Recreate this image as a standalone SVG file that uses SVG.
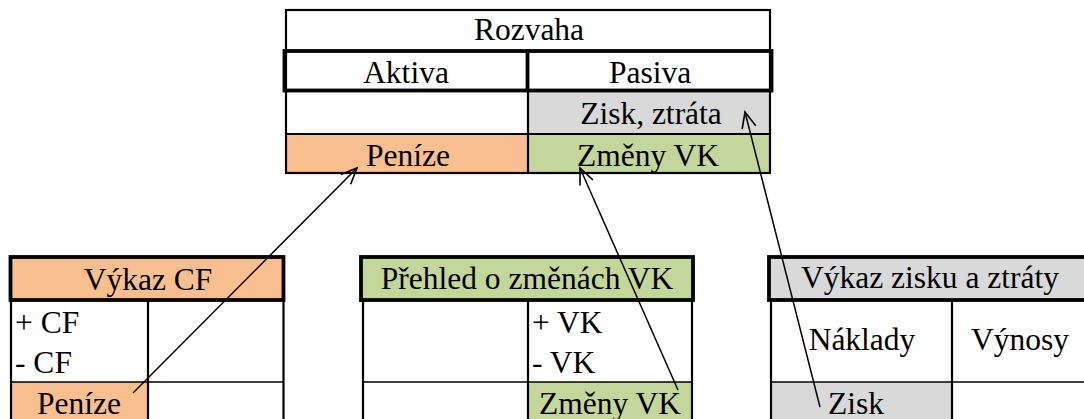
<svg xmlns="http://www.w3.org/2000/svg" width="1084" height="419" viewBox="0 0 1084 419">
<style>
text{font-family:'Liberation Serif','Times New Roman',serif;font-size:31.5px;fill:#000}
.c{text-anchor:middle}
.ln{stroke:#000;stroke-width:2.2;fill:none}
.thk{stroke:#000;stroke-width:3.8;fill:none}
.thin{stroke:#000;stroke-width:1.6;fill:none}
.or{fill:#FABF8F}
.gr{fill:#C4D79B}
.gy{fill:#D9D9D9}
.arr{stroke:#000;stroke-width:1.5;fill:none;marker-end:url(#ah)}
</style>
<defs>
<marker id="ah" markerUnits="userSpaceOnUse" markerWidth="24" markerHeight="24" refX="17" refY="8" orient="auto" viewBox="0 0 24 16">
<path d="M1,1 L17,8 L1,15" fill="none" stroke="#000" stroke-width="1.6"/>
</marker>
</defs>
<rect width="1084" height="419" fill="#fff"/>

<g id="rozvaha">
<rect x="528" y="91" width="242" height="43" class="gy"/>
<rect x="286" y="134" width="242" height="39" class="or"/>
<rect x="528" y="134" width="242" height="39" class="gr"/>
<rect x="286" y="10" width="484" height="163" class="ln"/>
<line x1="528" y1="91" x2="528" y2="173" class="ln"/>
<line x1="286" y1="134" x2="770" y2="134" class="ln"/>
<rect x="284.5" y="51" width="487" height="39.5" class="thk"/>
<line x1="527.5" y1="51" x2="527.5" y2="90.5" class="thk"/>
<text x="529" y="40" class="c">Rozvaha</text>
<text x="406" y="83" class="c">Aktiva</text>
<text x="650" y="83" class="c">Pasiva</text>
<text x="651" y="124" class="c">Zisk, ztráta</text>
<text x="408" y="166" class="c">Peníze</text>
<text x="648" y="166" class="c">Změny VK</text>
</g>

<g id="vykaz-cf">
<rect x="10.5" y="257" width="273" height="43" class="or"/>
<rect x="11" y="382" width="137" height="40" class="or"/>
<line x1="11" y1="300" x2="11" y2="425" class="ln"/>
<line x1="283.5" y1="300" x2="283.5" y2="425" class="ln"/>
<line x1="148" y1="300" x2="148" y2="425" class="ln"/>
<line x1="11" y1="382" x2="283.5" y2="382" class="thin"/>
<rect x="10.5" y="257" width="273" height="43" class="thk"/>
<text x="148" y="290" class="c">Výkaz CF</text>
<text x="15" y="333">+ CF</text>
<text x="15" y="373">- CF</text>
<text x="79" y="414" class="c">Peníze</text>
</g>

<g id="prehled-vk">
<rect x="361" y="257" width="332" height="43" class="gr"/>
<rect x="528" y="382" width="164" height="40" class="gr"/>
<line x1="363" y1="300" x2="363" y2="425" class="ln"/>
<line x1="692" y1="300" x2="692" y2="425" class="ln"/>
<line x1="528" y1="300" x2="528" y2="425" class="ln"/>
<line x1="363" y1="382" x2="692" y2="382" class="thin"/>
<rect x="361" y="257" width="332" height="43" class="thk"/>
<text x="527" y="289" class="c">Přehled o změnách VK</text>
<text x="532" y="333">+ VK</text>
<text x="532" y="373">- VK</text>
<text x="610" y="414" class="c">Změny VK</text>
</g>

<g id="vykaz-zisku">
<rect x="769" y="257" width="330" height="43" class="gy"/>
<rect x="771" y="382" width="181" height="40" class="gy"/>
<line x1="771" y1="300" x2="771" y2="425" class="ln"/>
<line x1="952" y1="300" x2="952" y2="425" class="ln"/>
<line x1="771" y1="382" x2="1090" y2="382" class="thin"/>
<rect x="769" y="257" width="330" height="43" class="thk"/>
<text x="930" y="288" class="c">Výkaz zisku a ztráty</text>
<text x="862" y="350" class="c">Náklady</text>
<text x="1020" y="350" class="c">Výnosy</text>
<text x="856" y="414" class="c">Zisk</text>
</g>

<g id="connectors">
<line x1="133" y1="393" x2="357" y2="168" class="arr"/>
<line x1="678" y1="390" x2="580" y2="168" class="arr"/>
<line x1="820" y1="407" x2="745" y2="112" class="arr"/>
</g>
</svg>
